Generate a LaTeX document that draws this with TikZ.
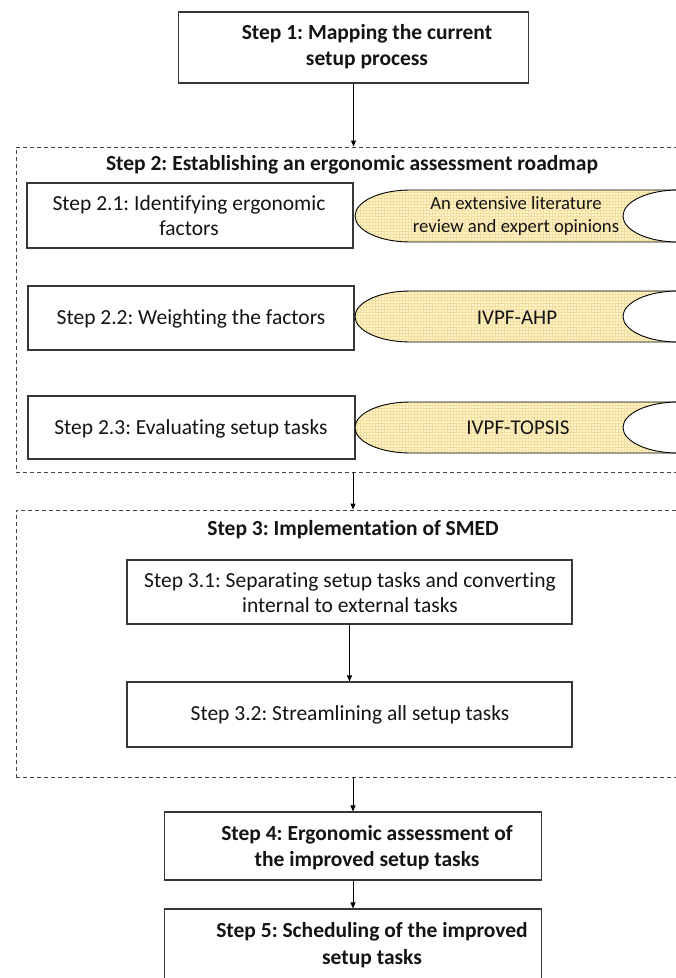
\documentclass[tikz,border=0pt]{standalone}
\usepackage{fontspec}
\setmainfont{Carlito}[Ligatures=NoCommon]
\usetikzlibrary{arrows.meta,patterns}
\definecolor{boxline}{RGB}{55,55,55}
\definecolor{grpline}{RGB}{70,70,70}
\definecolor{txt}{RGB}{20,20,20}
\definecolor{cylfill}{RGB}{255,243,200}
\definecolor{cylgrid}{RGB}{242,222,160}
\frenchspacing
\begin{document}
\begin{tikzpicture}[x=1pt,y=-1pt,
  box/.style={draw=boxline, line width=1.1pt, fill=white, inner sep=0pt, minimum width=#1},
  grp/.style={draw=grpline, line width=0.9pt, dash pattern=on 4pt off 3pt, inner sep=0pt},
  lbl/.style={align=center, font=\fontsize{21.5}{25}\selectfont, inner sep=0pt, text=txt},
  blbl/.style={align=center, font=\fontsize{21.5}{26.5}\selectfont\bfseries, inner sep=0pt, text=txt},
  clbl/.style={align=center, font=\fontsize{18.7}{23}\selectfont, inner sep=0pt, text=txt},
  cbig/.style={align=center, font=\fontsize{21}{25}\selectfont, inner sep=0pt, text=txt},
  arr/.style={-{Triangle[length=6pt,width=5pt]}, line width=0.9pt, black},
  cylbody/.style={draw=black, line width=0.9pt, preaction={fill=cylfill}, pattern=grid, pattern color=cylgrid},
  cylcap/.style={draw=black, line width=0.9pt, fill=white},
]
\useasboundingbox (0,0) rectangle (676,978);
\clip (0,0) rectangle (676,978);

% group frames
\node[grp, minimum width=704pt, minimum height=325pt] (g2) at (368,309.5) {};
\node[grp, minimum width=704pt, minimum height=267pt] (g3) at (368,643.5) {};

% step 1
\node[box=350pt, minimum height=71pt] (s1) at (353.5,47.5) {};
\node[blbl] (s1t) at (367,46.5) {Step 1: Mapping the current\\setup process};

% step 2
\node[blbl] (h2) at (352,165) {Step 2: Establishing an ergonomic assessment roadmap};
\node[box=326pt, minimum height=65pt] (s21) at (190,215.5) {};
\node[lbl] (s21t) at (189,216) {Step 2.1: Identifying ergonomic\\factors};
\node[box=326pt, minimum height=64pt] (s22) at (191,318) {};
\node[lbl] (s22t) at (191,319) {Step 2.2: Weighting the factors};
\node[box=327pt, minimum height=63pt] (s23) at (191.5,427.5) {};
\node[lbl] (s23t) at (191,429) {Step 2.3: Evaluating setup tasks};

% cylinders
\draw[cylbody] (678,190) -- (410,190) .. controls (379.6,190) and (355,201.6) .. (355,216)
   .. controls (355,230.4) and (379.6,242) .. (410,242) -- (678,242) -- cycle;
\draw[cylcap] (678,216) ellipse [x radius=55, y radius=26];
\node[clbl] (c1t) at (516,216.5) {An extensive literature\\review and expert opinions};

\draw[cylbody] (678,291) -- (410,291) .. controls (379.6,291) and (355,302.4) .. (355,316.5)
   .. controls (355,330.6) and (379.6,342) .. (410,342) -- (678,342) -- cycle;
\draw[cylcap] (678,316.5) ellipse [x radius=55, y radius=25.5];
\node[cbig] (c2t) at (517,318) {IVPF-AHP};

\draw[cylbody] (678,402) -- (410,402) .. controls (379.6,402) and (355,413.4) .. (355,427.5)
   .. controls (355,441.6) and (379.6,453) .. (410,453) -- (678,453) -- cycle;
\draw[cylcap] (678,427.5) ellipse [x radius=55, y radius=25.5];
\node[cbig] (c3t) at (518,428) {IVPF-TOPSIS};

% step 3
\node[blbl] (h3) at (353,530) {Step 3: Implementation of SMED};
\node[box=445pt, minimum height=64pt] (s31) at (349.5,592) {};
\node[lbl] (s31t) at (350,592.5) {Step 3.1: Separating setup tasks and converting\\internal to external tasks};
\node[box=445pt, minimum height=65pt] (s32) at (349.5,714.5) {};
\node[lbl] (s32t) at (350,715) {Step 3.2: Streamlining all setup tasks};

% step 4 and 5
\node[box=377pt, minimum height=68pt] (s4) at (353,846) {};
\node[blbl] (s4t) at (367,847.5) {Step 4: Ergonomic assessment of\\the improved setup tasks};
\node[box=377pt, minimum height=81pt] (s5) at (353,949.5) {};
\node[blbl] (s5t) at (372,945) {Step 5: Scheduling of the improved\\setup tasks};

% arrows
\draw[arr] (s1.south) -- (s1.south |- g2.north);
\draw[arr] (g2.south -| s4.north) -- (g3.north -| s4.north);
\draw[arr] (s31.south) -- (s32.north);
\draw[arr] (g3.south -| s4.north) -- (s4.north);
\draw[arr] (s4.south) -- (s5.north);
\end{tikzpicture}
\end{document}
